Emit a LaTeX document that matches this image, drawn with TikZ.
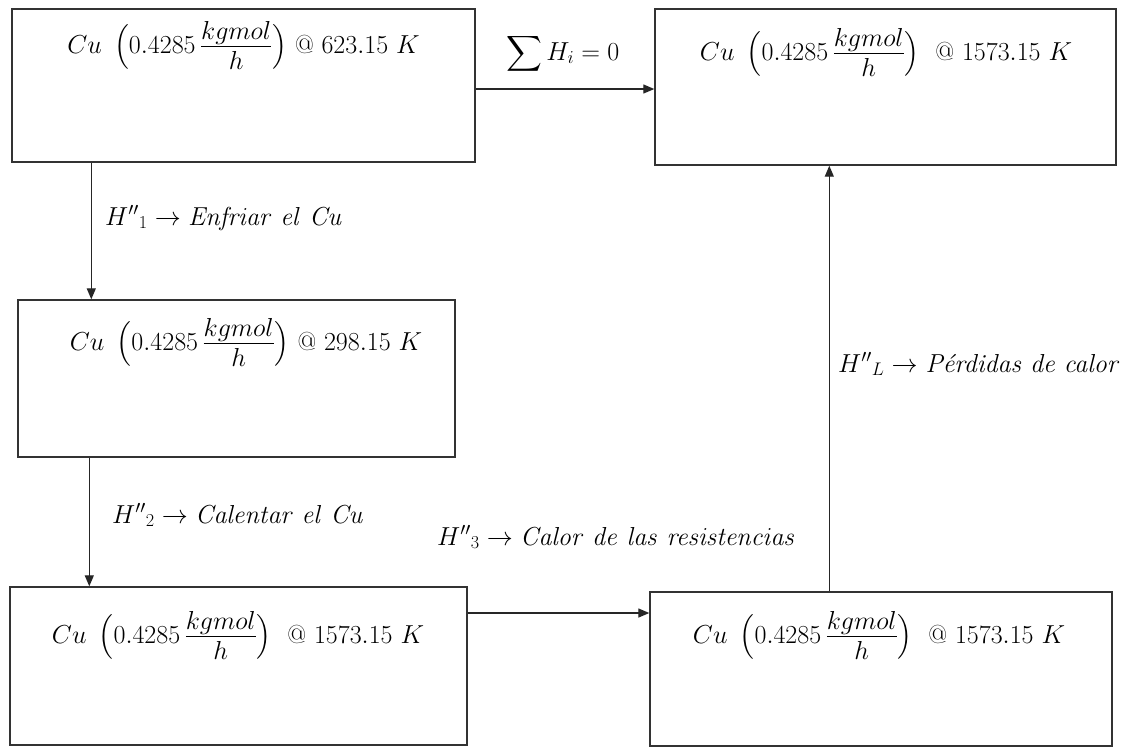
\RequirePackage{fix-cm}
\documentclass[tikz,border=0pt]{standalone}
\usepackage{amsmath}
\usetikzlibrary{arrows.meta,calc}
\newcommand{\cuflow}[1]{$Cu\ \left(0.4285\,\frac{\textstyle kgmol}{\textstyle h\rule{0pt}{0.82em}}\right)$#1}
\begin{document}
\begin{tikzpicture}[x=1pt,y=-1pt,
  box/.style={draw=black!80,line width=1.4pt,rectangle,inner sep=0pt},
  txt/.style={inner sep=0pt,font=\fontsize{26}{31}\selectfont},
  arr/.style={draw=black!85,line width=1.3pt,-{Triangle[length=11pt,width=9pt]}}]
\useasboundingbox (0,0) rectangle (1127,748);
\fill[white] (0,0) rectangle (1127,748);
% boxes
\node[box,minimum width=463pt,minimum height=153pt] (b1) at (243.5,85.5) {};
\node[box,minimum width=461pt,minimum height=156pt] (b2) at (885.5,87) {};
\node[box,minimum width=437pt,minimum height=157pt] (b3) at (236.5,378.5) {};
\node[box,minimum width=457pt,minimum height=158pt] (b4) at (238.5,666) {};
\node[box,minimum width=462pt,minimum height=154pt] (b5) at (881,669) {};
% box texts
\node[txt,anchor=base] (t1) at (243.5,53) {\cuflow{ @ $623.15\ K$}};
\node[txt,anchor=base] (t2) at (886,60) {\cuflow{\ \ @ $1573.15\ K$}};
\node[txt,anchor=base] (t3) at (246,350) {\cuflow{ @ $298.15\ K$}};
\node[txt,anchor=base] (t4) at (238,643) {\cuflow{\ \ @ $1573.15\ K$}};
\node[txt,anchor=base] (t5) at (879,643) {\cuflow{\ \ @ $1573.15\ K$}};
% connectors
\draw[arr] (b1.east |- 0,89) coordinate (c1) -- (c1 -| b2.west);
\draw[arr] ($(b1.south west)+(80,0)$) coordinate (c2) -- (c2 |- b3.north);
\draw[arr] ($(b3.south west)+(72,0)$) coordinate (c3) -- (c3 |- b4.north);
\draw[arr] (b4.east |- 0,613) coordinate (c4) -- (c4 -| b5.west);
\draw[arr] ($(b5.north west)+(180,0)$) coordinate (c5) -- (c5 |- b2.south);
% labels
\node[txt,anchor=base west] (l1) at (506,60) {$\displaystyle\sum H_i = 0$};
\node[txt,anchor=base west] (l2) at (105,225) {${H''}_{1} \rightarrow \mathit{Enfriar\ el\ Cu}$};
\node[txt,anchor=base west] (l3) at (112,523) {${H''}_{2} \rightarrow \mathit{Calentar\ el\ Cu}$};
\node[txt,anchor=base west] (l4) at (437,545) {${H''}_{3} \rightarrow \mathit{Calor\ de\ las\ resistencias}$};
\node[txt,anchor=base west] (l5) at (838,372) {${H''}_{L} \rightarrow$ \textit{Pérdidas de calor}};
\end{tikzpicture}
\end{document}
